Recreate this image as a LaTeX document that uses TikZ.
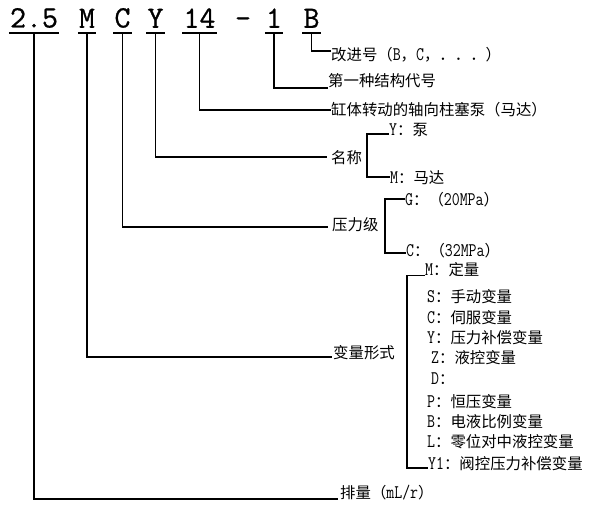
\documentclass[tikz,border=0pt]{standalone}
\usepackage{fontspec}
\setmainfont{Liberation Serif}
\newfontfamily\cjk{Noto Sans CJK SC}
\newfontfamily\latm{Latin Modern Mono}[Scale=1.25, FakeStretch=0.8]
\newfontfamily\hdrfont{Latin Modern Mono}[FakeBold=0.8]
\newcommand\La[1]{{\latm #1}}
\begin{document}
\begin{tikzpicture}[x=1pt,y=-1pt,
  hdr/.style={font=\hdrfont\fontsize{31}{32}\selectfont, inner xsep=1pt, inner ysep=5pt, anchor=south},
  lab/.style={font=\cjk\fontsize{15.4}{17}\selectfont, inner sep=0pt, anchor=west},
  conn/.style={line width=1.8pt},
  ul/.style={line width=1.8pt}]
\useasboundingbox (0,0) rectangle (599,514);
% header
\node[hdr] (h25) at (34,33) {2.5};
\node[hdr] (hM) at (87,33) {M};
\node[hdr] (hC) at (122.5,33) {C};
\node[hdr] (hY) at (155.5,33) {Y};
\node[hdr] (h14) at (199.5,33) {14};
\node[hdr] (hdash) at (243,33) {-};
\node[hdr] (h1) at (274,33) {1};
\node[hdr] (hB) at (311.5,33) {B};
\foreach \n in {h25,hM,hC,hY,h14,h1,hB}
  \draw[ul] (\n.south west) -- (\n.south east);
% labels
\node[lab] (lB) at (331,55) {改进号（\La{B}，\La{C}，．．．）};
\node[lab] (l1) at (328,80.5) {第一种结构代号};
\node[lab] (l14) at (331,109.5) {缸体转动的轴向柱塞泵（马达）};
\node[lab] (lY) at (331,158) {名称};
\node[lab] (lYY) at (389,130) {\La{Y}：泵};
\node[lab] (lYM) at (390,178) {\La{M}：马达};
\node[lab] (lC) at (332,225) {压力级};
\node[lab] (lCG) at (405,200) {\La{G}：（\La{20MPa}）};
\node[lab] (lCC) at (406,251) {\La{C}：（\La{32MPa}）};
\node[lab] (lM) at (333,353) {变量形式};
\node[lab] (mM) at (425,269.5) {\La{M}：定量};
\node[lab] (mS) at (427,297) {\La{S}：手动变量};
\node[lab] (mC) at (427,318) {\La{C}：伺服变量};
\node[lab] (mY) at (427,338) {\La{Y}：压力补偿变量};
\node[lab] (mZ) at (431,358) {\La{Z}：液控变量};
\node[lab] (mD) at (431,379) {\La{D}：};
\node[lab] (mP) at (427,402) {\La{P}：恒压变量};
\node[lab] (mB) at (427,422) {\La{B}：电液比例变量};
\node[lab] (mL) at (427,442) {\La{L}：零位对中液控变量};
\node[lab] (mY1) at (428,464) {\La{Y1}：阀控压力补偿变量};
\node[lab] (l25) at (340,493) {排量（\La{mL/r}）};
% connectors
\draw[conn] (hB.south) |- ([yshift=4pt]lB.west);
\draw[conn] (h1.south) |- ([yshift=-7.5pt]l1.west);
\draw[conn] (h14.south) |- ([yshift=-0.5pt]l14.west);
\draw[conn] (hY.south) |- ([yshift=1pt,xshift=-4pt]lY.west);
\draw[conn] (hC.south) |- ([yshift=-2pt,xshift=-4pt]lC.west);
\draw[conn] (hM.south) |- ([yshift=-4pt,xshift=-1pt]lM.west);
\draw[conn] (h25.south) |- ([yshift=-6pt,xshift=-2pt]l25.west);
% brackets
\coordinate (bY) at (367,177);
\draw[conn] ([yshift=-4pt]lYY.west) -| (bY) -- ([yshift=1pt]lYM.west);
\coordinate (bC) at (385,253);
\draw[conn] ([yshift=1pt]lCG.west) -| (bC) -- ([yshift=-2pt]lCC.west);
\coordinate (bM) at (407,468);
\draw[conn] ([yshift=-6pt]mM.west) -| (bM) -- ([yshift=-4pt]mY1.west);
\end{tikzpicture}
\end{document}
